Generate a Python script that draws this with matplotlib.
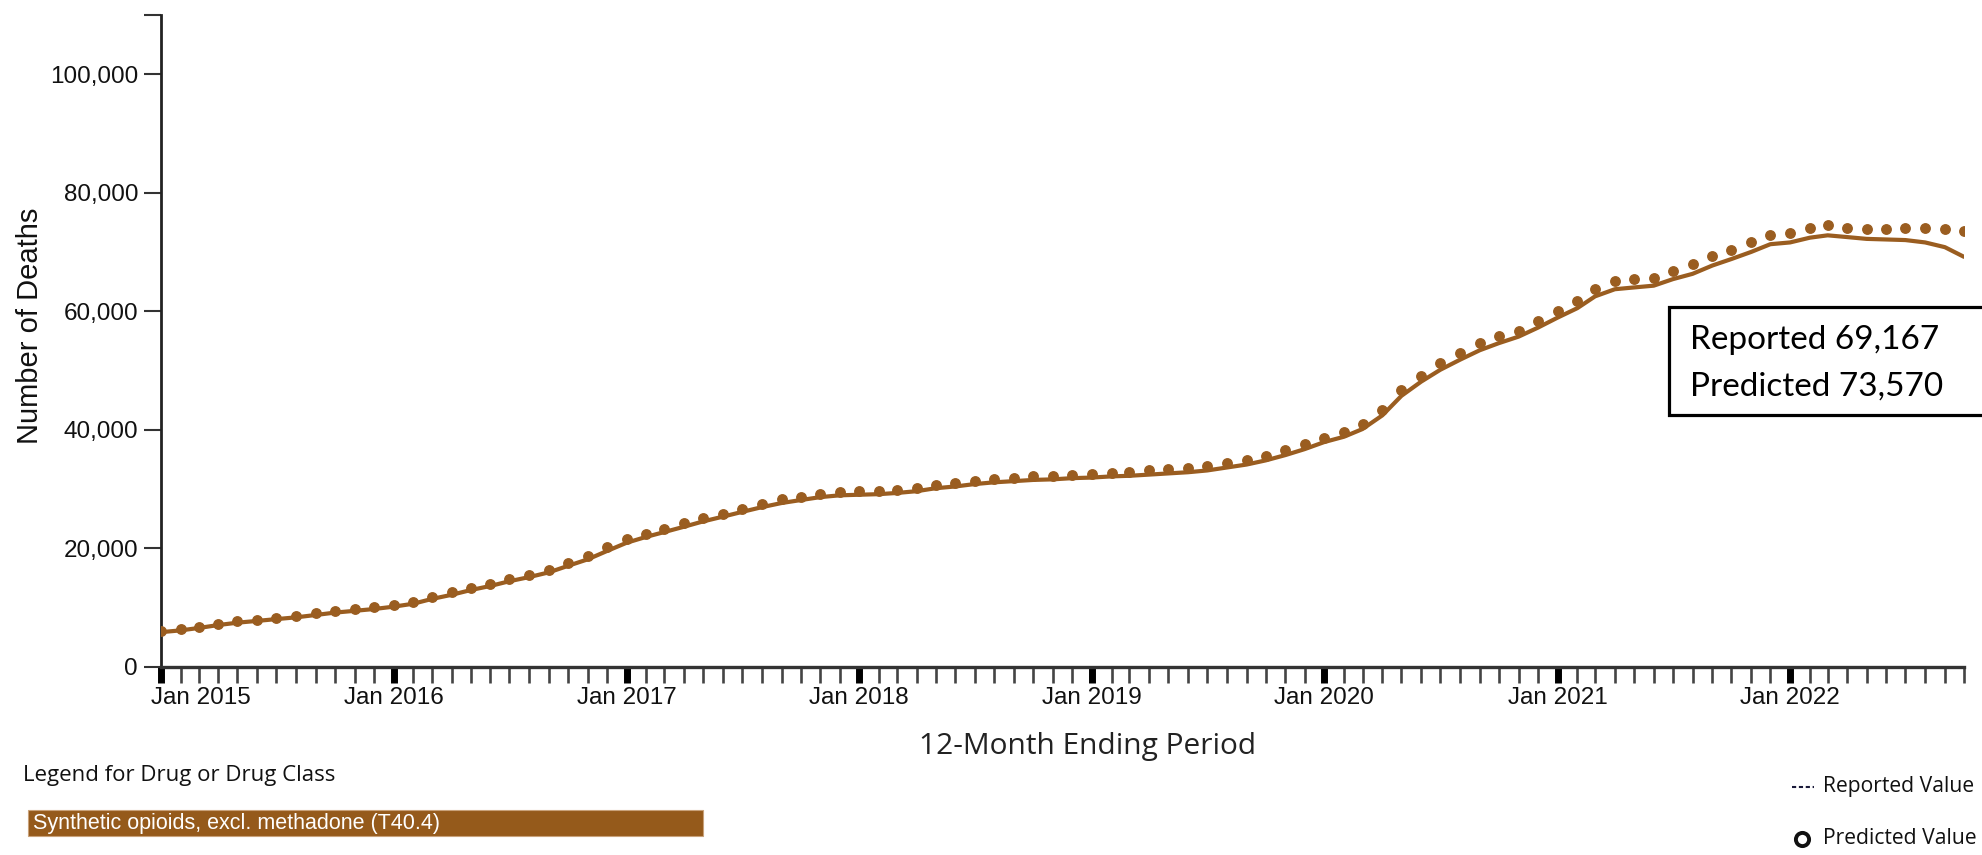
import numpy as np
import pandas as pd
import matplotlib
matplotlib.use("Agg")
import matplotlib.pyplot as plt
import matplotlib.dates as mdates
from matplotlib.patches import Rectangle
from matplotlib.lines import Line2D
from matplotlib.ticker import FixedLocator, FuncFormatter
from matplotlib.transforms import ScaledTranslation

# 12-month ending periods, Jan 2015 .. Oct 2022
start_month = "2015-01-01"
n_months = 94

# synthetic opioids, excl. methadone (T40.4)
reported = [
    5800, 6100, 6500, 7000, 7400, 7700, 8000, 8300, 8700, 9100, 9400, 9700,
    10100, 10600, 11400, 12100, 12900, 13600, 14400, 15100, 15900, 17000, 18100, 19500,
    20900, 21900, 22700, 23600, 24500, 25300, 26100, 26900, 27600, 28100, 28600, 28900,
    29000, 29100, 29300, 29600, 30100, 30400, 30800, 31100, 31300, 31500, 31600, 31800,
    31900, 32100, 32200, 32400, 32600, 32800, 33100, 33600, 34100, 34800, 35700, 36700,
    37900, 38800, 40100, 42400, 45700, 48100, 50100, 51800, 53400, 54600, 55700, 57200,
    58900, 60500, 62500, 63700, 64000, 64300, 65400, 66300, 67700, 68800, 70000, 71300,
    71600, 72400, 72800, 72500, 72200, 72100, 72000, 71600, 70800, 69167,
]
predicted = [
    6000, 6300, 6700, 7200, 7700, 7900, 8200, 8500, 9000, 9400, 9700, 10000,
    10400, 10900, 11800, 12500, 13300, 14000, 14800, 15500, 16300, 17500, 18600, 20100,
    21500, 22400, 23200, 24200, 25000, 25800, 26600, 27500, 28200, 28600, 29200, 29500,
    29600, 29600, 29800, 30200, 30700, 31000, 31400, 31700, 31900, 32100, 32200, 32400,
    32500, 32700, 32800, 33100, 33300, 33500, 33800, 34400, 34900, 35600, 36500, 37500,
    38600, 39600, 41000, 43300, 46700, 49000, 51300, 53000, 54700, 55800, 56600, 58300,
    60000, 61700, 63700, 65100, 65400, 65600, 66800, 67900, 69300, 70400, 71600, 72900,
    73200, 74100, 74600, 74100, 73800, 73800, 74100, 74100, 73800, 73570,
]
y_ticks = [0, 20000, 40000, 60000, 80000, 100000, 110000]
drug_label = "Synthetic opioids, excl. methadone (T40.4)"
box_lines = ["Reported 69,167", "Predicted 73,570"]

brown = "#9A5D20"
W, H = 1982, 855

dates = pd.date_range(start_month, periods=n_months, freq="MS")

fig = plt.figure(figsize=(W / 100, H / 100), dpi=100)
fig.patch.set_facecolor("white")
ax = fig.add_axes([161 / W, 1 - 666.5 / H, (1964 - 161) / W, (666.5 - 15) / H])

ax.plot(dates, reported, color=brown, lw=3.0, solid_capstyle="round", zorder=3)
ax.plot(dates, predicted, ls="none", marker="o", ms=6.8, color=brown, zorder=4)

ax.set_xlim(dates[0], dates[-1])
ax.set_ylim(0, 110000)

for s in ["top", "right"]:
    ax.spines[s].set_visible(False)
ax.spines["left"].set_color("#222222")
ax.spines["left"].set_linewidth(2.0)
ax.spines["bottom"].set_color("#333333")
ax.spines["bottom"].set_linewidth(2.4)

# y axis
ax.yaxis.set_major_locator(FixedLocator(y_ticks))
ax.yaxis.set_major_formatter(FuncFormatter(lambda v, p: "" if v > 100000 else f"{int(v):,}"))
ax.tick_params(axis="y", length=12, width=1.5, color="#333333", pad=4.5,
               labelsize=17.5, labelcolor="#111111")
for lab in ax.get_yticklabels():
    lab.set_fontfamily("Liberation Sans")

# x axis: big tick each January, small tick each month
ax.xaxis.set_major_locator(mdates.MonthLocator(bymonth=1))
ax.xaxis.set_major_formatter(mdates.DateFormatter("%b %Y"))
ax.xaxis.set_minor_locator(mdates.MonthLocator(bymonth=range(2, 13)))
ax.tick_params(axis="x", which="major", length=11.5, width=5, color="black", pad=3,
               labelsize=17.5, labelcolor="#111111")
ax.tick_params(axis="x", which="minor", length=11.5, width=1.9, color="#444444")
fig.canvas.draw()
xlabs = ax.get_xticklabels()
for lab in xlabs:
    lab.set_fontfamily("Liberation Sans")
xlabs[0].set_horizontalalignment("left")
xlabs[0].set_transform(xlabs[0].get_transform() + ScaledTranslation(-10 / 100, 0, fig.dpi_scale_trans))

# axis titles
fig.text(30 / W, 1 - 326 / H, "Number of Deaths", rotation=90, ha="center", va="center",
         fontsize=21, family="Liberation Sans", color="#111111")
fig.text(1088 / W, 1 - 746 / H, "12-Month Ending Period", ha="center", va="center",
         fontsize=21.5, family="Open Sans", color="#222222")

# drug legend
fig.text(23 / W, 1 - 775 / H, "Legend for Drug or Drug Class", ha="left", va="center",
         fontsize=16, family="Open Sans", color="#111111")
fig.add_artist(Rectangle((28 / W, 1 - 836 / H), 675 / W, 26 / H, transform=fig.transFigure,
                         facecolor="#955A1B", edgecolor="#C9A27A", lw=0.8))
fig.text(33 / W, 1 - 823 / H, drug_label, ha="left", va="center",
         fontsize=15.5, family="Liberation Sans", color="white")

# reported / predicted key
fig.add_artist(Line2D([1792 / W, 1814 / W], [1 - 787 / H, 1 - 787 / H], transform=fig.transFigure,
                      color="#1a1a3a", lw=1.5, dashes=(2.0, 1.3)))
fig.text(1823 / W, 1 - 786 / H, "Reported Value", ha="left", va="center",
         fontsize=15.2, family="Open Sans", color="#111111")
fig.add_artist(Line2D([1802 / W], [1 - 839 / H], transform=fig.transFigure, marker="o",
                      ms=9.5, mfc="white", mec="#111111", mew=2.8, ls="none"))
fig.text(1823 / W, 1 - 838 / H, "Predicted Value", ha="left", va="center",
         fontsize=15.2, family="Open Sans", color="#111111")

# callout box with the latest values
fig.add_artist(Rectangle((1669 / W, 1 - 415 / H), 0.25, 108 / H, transform=fig.transFigure,
                         facecolor="white", edgecolor="black", lw=2.3, zorder=10))
fig.text(1690 / W, 1 - 349 / H, box_lines[0], ha="left", va="baseline",
         fontsize=24, family="Lato", color="black", zorder=11)
fig.text(1690 / W, 1 - 396 / H, box_lines[1], ha="left", va="baseline",
         fontsize=24, family="Lato", color="black", zorder=11)

fig.savefig("out.png", dpi=100)
